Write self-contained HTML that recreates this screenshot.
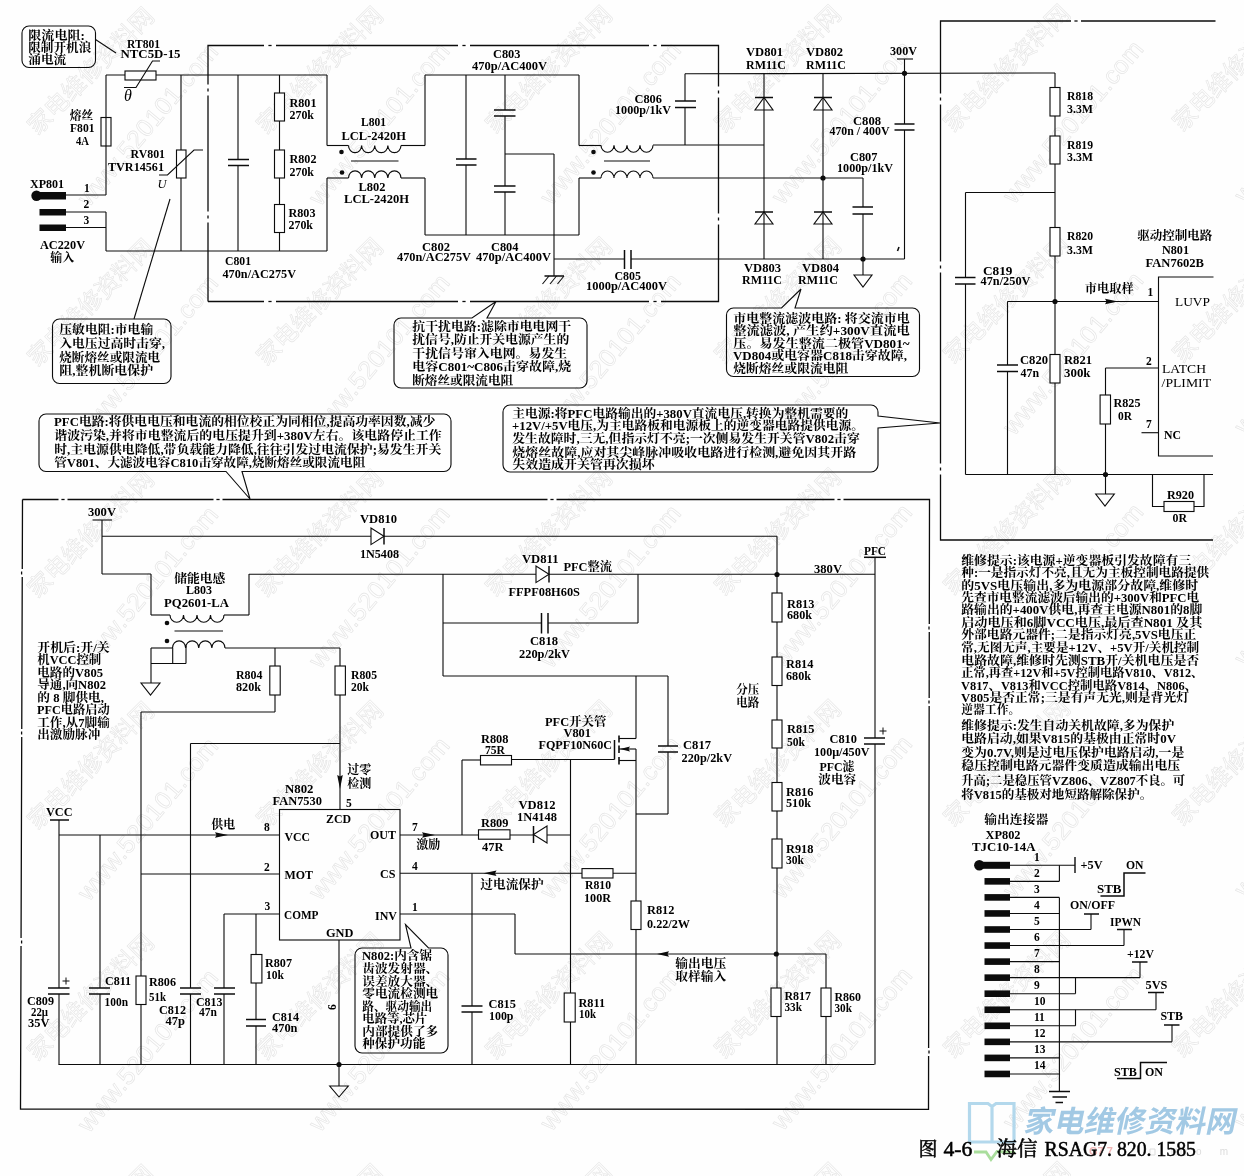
<!DOCTYPE html>
<html><head><meta charset="utf-8"><title>RSAG7.820.1585</title>
<style>html,body{margin:0;padding:0;background:#fefefe;overflow:hidden}svg{display:block;filter:blur(0.35px)}</style></head>
<body>
<svg width="1244" height="1176" viewBox="0 0 1244 1176" font-family="'Liberation Serif', 'Noto Serif CJK SC', serif" font-weight="bold" font-size="11.5" fill="#000">
<defs>
<text id="wm1" font-family="'Liberation Sans', 'Noto Sans CJK SC', sans-serif" font-weight="normal" font-size="23.9" fill="none" stroke="#e4e4e4" stroke-width="0.6" textLength="167" lengthAdjust="spacing">家电维修资料网</text>
<text id="wm2" font-family="Liberation Sans, sans-serif" font-weight="normal" font-size="25" fill="none" stroke="#e4e4e4" stroke-width="0.62" textLength="203" lengthAdjust="spacing">www.520101.com</text>
</defs>

<use href="#wm1" transform="translate(-191.5 -94.9255) rotate(-45)"/>
<use href="#wm2" transform="translate(-142.3 -23.0731) rotate(-50)"/>
<use href="#wm1" transform="translate(37.5 -95.6125) rotate(-45)"/>
<use href="#wm2" transform="translate(89.0 -23.767) rotate(-50)"/>
<use href="#wm1" transform="translate(266.5 -96.2995) rotate(-45)"/>
<use href="#wm2" transform="translate(320.3 -24.4609) rotate(-50)"/>
<use href="#wm1" transform="translate(495.5 -96.9865) rotate(-45)"/>
<use href="#wm2" transform="translate(551.6 -25.1548) rotate(-50)"/>
<use href="#wm1" transform="translate(724.5 -97.6735) rotate(-45)"/>
<use href="#wm2" transform="translate(782.9000000000001 -25.8487) rotate(-50)"/>
<use href="#wm1" transform="translate(953.5 -98.3605) rotate(-45)"/>
<use href="#wm2" transform="translate(1014.2 -26.5426) rotate(-50)"/>
<use href="#wm1" transform="translate(1182.5 -99.0475) rotate(-45)"/>
<use href="#wm2" transform="translate(1245.5 -27.2365) rotate(-50)"/>
<use href="#wm1" transform="translate(-191.5 136.5745) rotate(-45)"/>
<use href="#wm2" transform="translate(-142.3 208.4269) rotate(-50)"/>
<use href="#wm1" transform="translate(37.5 135.8875) rotate(-45)"/>
<use href="#wm2" transform="translate(89.0 207.733) rotate(-50)"/>
<use href="#wm1" transform="translate(266.5 135.2005) rotate(-45)"/>
<use href="#wm2" transform="translate(320.3 207.0391) rotate(-50)"/>
<use href="#wm1" transform="translate(495.5 134.5135) rotate(-45)"/>
<use href="#wm2" transform="translate(551.6 206.3452) rotate(-50)"/>
<use href="#wm1" transform="translate(724.5 133.8265) rotate(-45)"/>
<use href="#wm2" transform="translate(782.9000000000001 205.6513) rotate(-50)"/>
<use href="#wm1" transform="translate(953.5 133.1395) rotate(-45)"/>
<use href="#wm2" transform="translate(1014.2 204.9574) rotate(-50)"/>
<use href="#wm1" transform="translate(1182.5 132.4525) rotate(-45)"/>
<use href="#wm2" transform="translate(1245.5 204.2635) rotate(-50)"/>
<use href="#wm1" transform="translate(-191.5 368.0745) rotate(-45)"/>
<use href="#wm2" transform="translate(-142.3 439.9269) rotate(-50)"/>
<use href="#wm1" transform="translate(37.5 367.3875) rotate(-45)"/>
<use href="#wm2" transform="translate(89.0 439.233) rotate(-50)"/>
<use href="#wm1" transform="translate(266.5 366.7005) rotate(-45)"/>
<use href="#wm2" transform="translate(320.3 438.5391) rotate(-50)"/>
<use href="#wm1" transform="translate(495.5 366.0135) rotate(-45)"/>
<use href="#wm2" transform="translate(551.6 437.8452) rotate(-50)"/>
<use href="#wm1" transform="translate(724.5 365.3265) rotate(-45)"/>
<use href="#wm2" transform="translate(782.9000000000001 437.1513) rotate(-50)"/>
<use href="#wm1" transform="translate(953.5 364.6395) rotate(-45)"/>
<use href="#wm2" transform="translate(1014.2 436.4574) rotate(-50)"/>
<use href="#wm1" transform="translate(1182.5 363.9525) rotate(-45)"/>
<use href="#wm2" transform="translate(1245.5 435.7635) rotate(-50)"/>
<use href="#wm1" transform="translate(-191.5 599.5745) rotate(-45)"/>
<use href="#wm2" transform="translate(-142.3 671.4269) rotate(-50)"/>
<use href="#wm1" transform="translate(37.5 598.8875) rotate(-45)"/>
<use href="#wm2" transform="translate(89.0 670.733) rotate(-50)"/>
<use href="#wm1" transform="translate(266.5 598.2005) rotate(-45)"/>
<use href="#wm2" transform="translate(320.3 670.0391) rotate(-50)"/>
<use href="#wm1" transform="translate(495.5 597.5135) rotate(-45)"/>
<use href="#wm2" transform="translate(551.6 669.3452) rotate(-50)"/>
<use href="#wm1" transform="translate(724.5 596.8265) rotate(-45)"/>
<use href="#wm2" transform="translate(782.9000000000001 668.6513) rotate(-50)"/>
<use href="#wm1" transform="translate(953.5 596.1395) rotate(-45)"/>
<use href="#wm2" transform="translate(1014.2 667.9574) rotate(-50)"/>
<use href="#wm1" transform="translate(1182.5 595.4525) rotate(-45)"/>
<use href="#wm2" transform="translate(1245.5 667.2635) rotate(-50)"/>
<use href="#wm1" transform="translate(-191.5 831.0745) rotate(-45)"/>
<use href="#wm2" transform="translate(-142.3 902.9269) rotate(-50)"/>
<use href="#wm1" transform="translate(37.5 830.3875) rotate(-45)"/>
<use href="#wm2" transform="translate(89.0 902.233) rotate(-50)"/>
<use href="#wm1" transform="translate(266.5 829.7005) rotate(-45)"/>
<use href="#wm2" transform="translate(320.3 901.5391) rotate(-50)"/>
<use href="#wm1" transform="translate(495.5 829.0135) rotate(-45)"/>
<use href="#wm2" transform="translate(551.6 900.8452) rotate(-50)"/>
<use href="#wm1" transform="translate(724.5 828.3265) rotate(-45)"/>
<use href="#wm2" transform="translate(782.9000000000001 900.1513) rotate(-50)"/>
<use href="#wm1" transform="translate(953.5 827.6395) rotate(-45)"/>
<use href="#wm2" transform="translate(1014.2 899.4574) rotate(-50)"/>
<use href="#wm1" transform="translate(1182.5 826.9525) rotate(-45)"/>
<use href="#wm2" transform="translate(1245.5 898.7635) rotate(-50)"/>
<use href="#wm1" transform="translate(-191.5 1062.5745) rotate(-45)"/>
<use href="#wm2" transform="translate(-142.3 1134.4269) rotate(-50)"/>
<use href="#wm1" transform="translate(37.5 1061.8875) rotate(-45)"/>
<use href="#wm2" transform="translate(89.0 1133.733) rotate(-50)"/>
<use href="#wm1" transform="translate(266.5 1061.2005) rotate(-45)"/>
<use href="#wm2" transform="translate(320.3 1133.0391) rotate(-50)"/>
<use href="#wm1" transform="translate(495.5 1060.5135) rotate(-45)"/>
<use href="#wm2" transform="translate(551.6 1132.3452) rotate(-50)"/>
<use href="#wm1" transform="translate(724.5 1059.8265) rotate(-45)"/>
<use href="#wm2" transform="translate(782.9000000000001 1131.6513) rotate(-50)"/>
<use href="#wm1" transform="translate(953.5 1059.1395) rotate(-45)"/>
<use href="#wm2" transform="translate(1014.2 1130.9574) rotate(-50)"/>
<use href="#wm1" transform="translate(1182.5 1058.4525) rotate(-45)"/>
<use href="#wm2" transform="translate(1245.5 1130.2635) rotate(-50)"/>
<use href="#wm1" transform="translate(-191.5 1294.0745) rotate(-45)"/>
<use href="#wm2" transform="translate(-142.3 1365.9269) rotate(-50)"/>
<use href="#wm1" transform="translate(37.5 1293.3875) rotate(-45)"/>
<use href="#wm2" transform="translate(89.0 1365.233) rotate(-50)"/>
<use href="#wm1" transform="translate(266.5 1292.7005) rotate(-45)"/>
<use href="#wm2" transform="translate(320.3 1364.5391) rotate(-50)"/>
<use href="#wm1" transform="translate(495.5 1292.0135) rotate(-45)"/>
<use href="#wm2" transform="translate(551.6 1363.8452) rotate(-50)"/>
<use href="#wm1" transform="translate(724.5 1291.3265) rotate(-45)"/>
<use href="#wm2" transform="translate(782.9000000000001 1363.1513) rotate(-50)"/>
<use href="#wm1" transform="translate(953.5 1290.6395) rotate(-45)"/>
<use href="#wm2" transform="translate(1014.2 1362.4574) rotate(-50)"/>
<use href="#wm1" transform="translate(1182.5 1289.9525) rotate(-45)"/>
<use href="#wm2" transform="translate(1245.5 1361.7635) rotate(-50)"/>
<path d="M969.5 1103.5V1142H1014V1103.5H996L992 1106.5L988 1103.5ZM992 1106.5V1142" fill="none" stroke="#b3d8ec" stroke-width="3.2" stroke-linejoin="miter"/>
<path d="M974 1152H986L991 1159.5L997 1151.5L1015 1152.5" fill="none" stroke="#a9dd9c" stroke-width="2.8"/>
<text transform="translate(1023 1132) skewX(-12)" x="0" y="0" font-family="'Liberation Sans', 'Noto Sans CJK SC', sans-serif" font-weight="bold" font-size="30" fill="#a2c9e4" textLength="212" lengthAdjust="spacingAndGlyphs">家电维修资料网</text>
<text x="1089" y="1155" font-family="Liberation Sans, sans-serif" font-weight="bold" font-size="11" fill="#efb4b4">G7 7</text>
<path d="M1150 1149h5v6h-5zM1163 1154.5h1M1172 1149h5v6h-5zM1181 1149h5v6h-5z" fill="none" stroke="#dedede" stroke-width="1"/>
<text x="1196" y="1155" font-family="Liberation Sans, sans-serif" font-weight="normal" font-size="10" fill="#dcdcdc" textLength="32">o m</text>
<path d="M208 301.5L208 45.5L718.5 45.5L718.5 301.5L208 301.5" stroke="#0c0c0c" stroke-width="1.3" fill="none" stroke-linejoin="miter"/>
<rect x="22" y="26" width="73.5" height="41.5" rx="7" ry="7" stroke="#0c0c0c" stroke-width="1.12" fill="none"/>
<path d="M95.5 39.5L116 53" stroke="#0c0c0c" stroke-width="1.12" fill="none"/>
<text x="28.26" y="39.5" font-size="12.5" textLength="56.7" lengthAdjust="spacingAndGlyphs">限流电阻:</text>
<text x="28.25" y="52" font-size="12.5" textLength="63" lengthAdjust="spacingAndGlyphs">限制开机浪</text>
<text x="28.25" y="63.5" font-size="12.5" textLength="38" lengthAdjust="spacingAndGlyphs">涌电流</text>
<text x="127" y="47.5" textLength="33" lengthAdjust="spacingAndGlyphs">RT801</text>
<text x="120.5" y="58" textLength="60" lengthAdjust="spacingAndGlyphs">NTC5D-15</text>
<path d="M106 75L327 75" stroke="#0c0c0c" stroke-width="1.12" fill="none"/>
<rect x="125" y="71" width="31" height="9" stroke="#0c0c0c" stroke-width="1.12" fill="#fff"/>
<path d="M124 87.5L136 87.5L152.5 61L160 61" stroke="#0c0c0c" stroke-width="1.12" fill="none" stroke-linejoin="miter"/>
<text x="124" y="101" font-size="16" font-weight="normal" font-style="italic">θ</text>
<path d="M106 75L106 195" stroke="#0c0c0c" stroke-width="1.12" fill="none"/>
<rect x="101" y="117.5" width="10" height="28.5" stroke="#0c0c0c" stroke-width="1.12" fill="none"/>
<text x="69.73" y="120" font-size="12" textLength="23.5" lengthAdjust="spacingAndGlyphs">熔丝</text>
<text x="70" y="132" textLength="24.5" lengthAdjust="spacingAndGlyphs">F801</text>
<text x="76" y="145" textLength="13" lengthAdjust="spacingAndGlyphs">4A</text>
<text x="130.5" y="157.5" textLength="34.5" lengthAdjust="spacingAndGlyphs">RV801</text>
<text x="108" y="171" textLength="56" lengthAdjust="spacingAndGlyphs">TVR14561</text>
<path d="M181 75L181 251" stroke="#0c0c0c" stroke-width="1.12" fill="none"/>
<rect x="176.5" y="150" width="9.5" height="28" stroke="#0c0c0c" stroke-width="1.12" fill="#fff"/>
<path d="M159 175L167.5 175L194 150L203 150" stroke="#0c0c0c" stroke-width="1.12" fill="none" stroke-linejoin="miter"/>
<text x="157.5" y="188" font-size="12.5" font-weight="normal" font-style="italic">U</text>
<text x="30" y="188" textLength="34" lengthAdjust="spacingAndGlyphs">XP801</text>
<circle cx="36.5" cy="195.8" r="5.2" fill="#0c0c0c"/>
<rect x="36" y="192" width="30" height="7.5" fill="#0c0c0c"/>
<path d="M66 195L106 195" stroke="#0c0c0c" stroke-width="1.12" fill="none"/>
<rect x="39.5" y="209" width="26.5" height="6.5" fill="#0c0c0c"/>
<path d="M66 212L106 212" stroke="#0c0c0c" stroke-width="1.12" fill="none"/>
<rect x="39.5" y="224.5" width="26.5" height="6.5" fill="#0c0c0c"/>
<path d="M66 227.5L106 227.5" stroke="#0c0c0c" stroke-width="1.12" fill="none"/>
<path d="M106 212L106 251" stroke="#0c0c0c" stroke-width="1.12" fill="none"/>
<path d="M106 251L327 251" stroke="#0c0c0c" stroke-width="1.12" fill="none"/>
<text x="84" y="192">1</text>
<text x="83.5" y="208">2</text>
<text x="83.5" y="224">3</text>
<text x="40" y="249" textLength="45" lengthAdjust="spacingAndGlyphs">AC220V</text>
<text x="50.24" y="262" font-size="12.5" textLength="24" lengthAdjust="spacingAndGlyphs">输入</text>
<path d="M238 75L238 251" stroke="#0c0c0c" stroke-width="1.12" fill="none"/>
<rect x="236" y="159.5" width="4" height="6" fill="#fff"/>
<path d="M228 159.5L249 159.5" stroke="#0c0c0c" stroke-width="1.5" fill="none"/>
<path d="M228 165.5L249 165.5" stroke="#0c0c0c" stroke-width="1.5" fill="none"/>
<path d="M279.5 75L279.5 251" stroke="#0c0c0c" stroke-width="1.12" fill="none"/>
<rect x="274.5" y="93" width="10" height="28" stroke="#0c0c0c" stroke-width="1.12" fill="#fff"/>
<rect x="274.5" y="150" width="10" height="28" stroke="#0c0c0c" stroke-width="1.12" fill="#fff"/>
<rect x="274.5" y="204.5" width="10" height="28" stroke="#0c0c0c" stroke-width="1.12" fill="#fff"/>
<text x="289.5" y="107" textLength="27" lengthAdjust="spacingAndGlyphs">R801</text>
<text x="289.5" y="118.5" textLength="24.5" lengthAdjust="spacingAndGlyphs">270k</text>
<text x="289.5" y="162.5" textLength="27" lengthAdjust="spacingAndGlyphs">R802</text>
<text x="289.5" y="176" textLength="24.5" lengthAdjust="spacingAndGlyphs">270k</text>
<text x="288.5" y="216.5" textLength="27" lengthAdjust="spacingAndGlyphs">R803</text>
<text x="288.5" y="229" textLength="24.5" lengthAdjust="spacingAndGlyphs">270k</text>
<text x="225" y="265" textLength="26" lengthAdjust="spacingAndGlyphs">C801</text>
<text x="222.5" y="277.5" textLength="73.5" lengthAdjust="spacingAndGlyphs">470n/AC275V</text>
<path d="M327 75L327 145.5" stroke="#0c0c0c" stroke-width="1.12" fill="none"/>
<path d="M327 145.5L348.5 145.5" stroke="#0c0c0c" stroke-width="1.12" fill="none"/>
<path d="M327 178L327 251" stroke="#0c0c0c" stroke-width="1.12" fill="none"/>
<path d="M327 178L348.5 178" stroke="#0c0c0c" stroke-width="1.12" fill="none"/>
<path d="M348.5 145.5a6.56 7.09 0 0 0 13.12 0a6.56 7.09 0 0 0 13.12 0a6.56 7.09 0 0 0 13.12 0a6.56 7.09 0 0 0 13.12 0" stroke="#0c0c0c" stroke-width="1.12" fill="none"/>
<path d="M348.5 178a6.56 7.09 0 0 1 13.12 0a6.56 7.09 0 0 1 13.12 0a6.56 7.09 0 0 1 13.12 0a6.56 7.09 0 0 1 13.12 0" stroke="#0c0c0c" stroke-width="1.12" fill="none"/>
<path d="M351 161L398.5 161" stroke="#0c0c0c" stroke-width="1.12" fill="none"/>
<circle cx="341.5" cy="152" r="2.3" fill="#0c0c0c"/>
<circle cx="342" cy="172.5" r="2.3" fill="#0c0c0c"/>
<text x="361" y="126" textLength="25" lengthAdjust="spacingAndGlyphs">L801</text>
<text x="341.5" y="140" textLength="64.5" lengthAdjust="spacingAndGlyphs">LCL-2420H</text>
<text x="358.5" y="190.5" textLength="27" lengthAdjust="spacingAndGlyphs">L802</text>
<text x="344" y="202.5" textLength="65" lengthAdjust="spacingAndGlyphs">LCL-2420H</text>
<path d="M401 145.5L425 145.5" stroke="#0c0c0c" stroke-width="1.12" fill="none"/>
<path d="M401 178L425 178" stroke="#0c0c0c" stroke-width="1.12" fill="none"/>
<path d="M425 75L425 145.5" stroke="#0c0c0c" stroke-width="1.12" fill="none"/>
<path d="M425 178L425 235" stroke="#0c0c0c" stroke-width="1.12" fill="none"/>
<path d="M425 75L579 75" stroke="#0c0c0c" stroke-width="1.12" fill="none"/>
<path d="M425 235L579 235" stroke="#0c0c0c" stroke-width="1.12" fill="none"/>
<path d="M466 75L466 235" stroke="#0c0c0c" stroke-width="1.12" fill="none"/>
<rect x="464" y="159" width="4" height="6" fill="#fff"/>
<path d="M456 159L476.5 159" stroke="#0c0c0c" stroke-width="1.5" fill="none"/>
<path d="M456 165L476.5 165" stroke="#0c0c0c" stroke-width="1.5" fill="none"/>
<path d="M505 75L505 235" stroke="#0c0c0c" stroke-width="1.12" fill="none"/>
<rect x="503" y="110" width="4" height="6" fill="#fff"/>
<path d="M494 110L515.5 110" stroke="#0c0c0c" stroke-width="1.5" fill="none"/>
<path d="M494 116L515.5 116" stroke="#0c0c0c" stroke-width="1.5" fill="none"/>
<rect x="503" y="186" width="4" height="6" fill="#fff"/>
<path d="M494 186L515.5 186" stroke="#0c0c0c" stroke-width="1.5" fill="none"/>
<path d="M494 192L515.5 192" stroke="#0c0c0c" stroke-width="1.5" fill="none"/>
<path d="M505 154L554 154" stroke="#0c0c0c" stroke-width="1.12" fill="none"/>
<path d="M554 154L554 276" stroke="#0c0c0c" stroke-width="1.12" fill="none"/>
<path d="M544.5 276L564 276" stroke="#0c0c0c" stroke-width="1.5" fill="none"/>
<path d="M549 276L542.5 284" stroke="#0c0c0c" stroke-width="1.12" fill="none"/>
<path d="M556.5 276L550 284" stroke="#0c0c0c" stroke-width="1.12" fill="none"/>
<path d="M564 276L557.5 284" stroke="#0c0c0c" stroke-width="1.12" fill="none"/>
<path d="M554 259L904.5 259" stroke="#0c0c0c" stroke-width="1.12" fill="none"/>
<rect x="624.5" y="257" width="6.5" height="4" fill="#fff"/>
<path d="M624.5 250L624.5 269" stroke="#0c0c0c" stroke-width="1.5" fill="none"/>
<path d="M631 250L631 269" stroke="#0c0c0c" stroke-width="1.5" fill="none"/>
<path d="M579 75L579 145.5" stroke="#0c0c0c" stroke-width="1.12" fill="none"/>
<path d="M579 178L579 235" stroke="#0c0c0c" stroke-width="1.12" fill="none"/>
<path d="M579 145.5L601 145.5" stroke="#0c0c0c" stroke-width="1.12" fill="none"/>
<path d="M579 178L601 178" stroke="#0c0c0c" stroke-width="1.12" fill="none"/>
<path d="M601 145.2a6.5 7.02 0 0 0 13 0a6.5 7.02 0 0 0 13 0a6.5 7.02 0 0 0 13 0a6.5 7.02 0 0 0 13 0" stroke="#0c0c0c" stroke-width="1.12" fill="none"/>
<path d="M601 178a6.5 7.02 0 0 1 13 0a6.5 7.02 0 0 1 13 0a6.5 7.02 0 0 1 13 0a6.5 7.02 0 0 1 13 0" stroke="#0c0c0c" stroke-width="1.12" fill="none"/>
<path d="M604 161L650 161" stroke="#0c0c0c" stroke-width="1.12" fill="none"/>
<circle cx="593.5" cy="152" r="2.3" fill="#0c0c0c"/>
<circle cx="593.5" cy="172.5" r="2.3" fill="#0c0c0c"/>
<text x="493" y="58" textLength="27.5" lengthAdjust="spacingAndGlyphs">C803</text>
<text x="472" y="69.5" textLength="75" lengthAdjust="spacingAndGlyphs">470p/AC400V</text>
<text x="422" y="251" textLength="28" lengthAdjust="spacingAndGlyphs">C802</text>
<text x="397" y="261" textLength="74" lengthAdjust="spacingAndGlyphs">470n/AC275V</text>
<text x="491" y="251" textLength="27.5" lengthAdjust="spacingAndGlyphs">C804</text>
<text x="476" y="261" textLength="75" lengthAdjust="spacingAndGlyphs">470p/AC400V</text>
<text x="614.5" y="280" textLength="26.5" lengthAdjust="spacingAndGlyphs">C805</text>
<text x="586" y="290" textLength="81" lengthAdjust="spacingAndGlyphs">1000p/AC400V</text>
<path d="M653 145L764 145" stroke="#0c0c0c" stroke-width="1.12" fill="none"/>
<path d="M653 178L863 178" stroke="#0c0c0c" stroke-width="1.12" fill="none"/>
<path d="M685 73.7L685 145" stroke="#0c0c0c" stroke-width="1.12" fill="none"/>
<rect x="683" y="101" width="4" height="6.5" fill="#fff"/>
<path d="M675 101L696 101" stroke="#0c0c0c" stroke-width="1.5" fill="none"/>
<path d="M675 107.5L696 107.5" stroke="#0c0c0c" stroke-width="1.5" fill="none"/>
<path d="M685 73.8L1055 73" stroke="#0c0c0c" stroke-width="1.12" fill="none"/>
<path d="M764 73.6L764 259" stroke="#0c0c0c" stroke-width="1.12" fill="none"/>
<path d="M823 73.4L823 259" stroke="#0c0c0c" stroke-width="1.12" fill="none"/>
<path d="M755 110L773 110L764 97.5Z" stroke="#0c0c0c" stroke-width="1.12" fill="#fff" stroke-linejoin="miter"/>
<path d="M755 97.5L773 97.5" stroke="#0c0c0c" stroke-width="1.5" fill="none"/>
<path d="M764 97.5L764 110" stroke="#0c0c0c" stroke-width="1.12" fill="none"/>
<path d="M814 110L832 110L823 97.5Z" stroke="#0c0c0c" stroke-width="1.12" fill="#fff" stroke-linejoin="miter"/>
<path d="M814 97.5L832 97.5" stroke="#0c0c0c" stroke-width="1.5" fill="none"/>
<path d="M823 97.5L823 110" stroke="#0c0c0c" stroke-width="1.12" fill="none"/>
<path d="M755 224L773 224L764 212Z" stroke="#0c0c0c" stroke-width="1.12" fill="#fff" stroke-linejoin="miter"/>
<path d="M755 212L773 212" stroke="#0c0c0c" stroke-width="1.5" fill="none"/>
<path d="M764 212L764 224" stroke="#0c0c0c" stroke-width="1.12" fill="none"/>
<path d="M814 224L832 224L823 212Z" stroke="#0c0c0c" stroke-width="1.12" fill="#fff" stroke-linejoin="miter"/>
<path d="M814 212L832 212" stroke="#0c0c0c" stroke-width="1.5" fill="none"/>
<path d="M823 212L823 224" stroke="#0c0c0c" stroke-width="1.12" fill="none"/>
<circle cx="823" cy="178" r="2.6" fill="#0c0c0c"/>
<circle cx="863" cy="259" r="2.6" fill="#0c0c0c"/>
<circle cx="904.5" cy="73.3" r="2.6" fill="#0c0c0c"/>
<path d="M863 178L863 259" stroke="#0c0c0c" stroke-width="1.12" fill="none"/>
<rect x="861" y="207" width="4" height="7" fill="#fff"/>
<path d="M852.5 207L873 207" stroke="#0c0c0c" stroke-width="1.5" fill="none"/>
<path d="M852.5 214L873 214" stroke="#0c0c0c" stroke-width="1.5" fill="none"/>
<path d="M863 259L863 275" stroke="#0c0c0c" stroke-width="1.12" fill="none"/>
<path d="M854 275L872 275L863 287Z" stroke="#0c0c0c" stroke-width="1.12" fill="none" stroke-linejoin="miter"/>
<path d="M904.5 59L904.5 259" stroke="#0c0c0c" stroke-width="1.12" fill="none"/>
<path d="M897 59L913 59" stroke="#0c0c0c" stroke-width="1.12" fill="none"/>
<rect x="902.5" y="124" width="4" height="6" fill="#fff"/>
<path d="M894.5 124L914.5 124" stroke="#0c0c0c" stroke-width="1.5" fill="none"/>
<path d="M894.5 130L914.5 130" stroke="#0c0c0c" stroke-width="1.5" fill="none"/>
<path d="M899 247L897.5 251" stroke="#0c0c0c" stroke-width="1.6" fill="none"/>
<text x="746" y="55.5" textLength="37" lengthAdjust="spacingAndGlyphs">VD801</text>
<text x="746" y="69" textLength="40" lengthAdjust="spacingAndGlyphs">RM11C</text>
<text x="806" y="55.5" textLength="37" lengthAdjust="spacingAndGlyphs">VD802</text>
<text x="806" y="69" textLength="40" lengthAdjust="spacingAndGlyphs">RM11C</text>
<text x="890" y="55" textLength="27" lengthAdjust="spacingAndGlyphs">300V</text>
<text x="634.5" y="103" textLength="27.5" lengthAdjust="spacingAndGlyphs">C806</text>
<text x="615" y="114" textLength="56" lengthAdjust="spacingAndGlyphs">1000p/1kV</text>
<text x="853" y="125" textLength="28" lengthAdjust="spacingAndGlyphs">C808</text>
<text x="829.5" y="135" textLength="60" lengthAdjust="spacingAndGlyphs">470n / 400V</text>
<text x="850" y="161" textLength="27.5" lengthAdjust="spacingAndGlyphs">C807</text>
<text x="837" y="172" textLength="56" lengthAdjust="spacingAndGlyphs">1000p/1kV</text>
<text x="744" y="272" textLength="37" lengthAdjust="spacingAndGlyphs">VD803</text>
<text x="742" y="284" textLength="40" lengthAdjust="spacingAndGlyphs">RM11C</text>
<text x="802" y="272" textLength="37" lengthAdjust="spacingAndGlyphs">VD804</text>
<text x="798" y="284" textLength="40" lengthAdjust="spacingAndGlyphs">RM11C</text>
<path d="M1215.5 21L940.5 21L940.5 540L1213 540" stroke="#0c0c0c" stroke-width="1.3" fill="none" stroke-linejoin="miter"/>
<path d="M1055 73L1055 474.5" stroke="#0c0c0c" stroke-width="1.12" fill="none"/>
<rect x="1050" y="87.5" width="10" height="28.5" stroke="#0c0c0c" stroke-width="1.12" fill="#fff"/>
<rect x="1050" y="136" width="10" height="28" stroke="#0c0c0c" stroke-width="1.12" fill="#fff"/>
<rect x="1050" y="227.5" width="10" height="28.5" stroke="#0c0c0c" stroke-width="1.12" fill="#fff"/>
<rect x="1050" y="354.5" width="10" height="28.5" stroke="#0c0c0c" stroke-width="1.12" fill="#fff"/>
<path d="M965.5 192.5L1055 192.5" stroke="#0c0c0c" stroke-width="1.12" fill="none"/>
<path d="M965.5 192.5L965.5 474.5" stroke="#0c0c0c" stroke-width="1.12" fill="none"/>
<rect x="963.5" y="277.5" width="4" height="6.5" fill="#fff"/>
<path d="M955 277.5L975.5 277.5" stroke="#0c0c0c" stroke-width="1.5" fill="none"/>
<path d="M955 284L975.5 284" stroke="#0c0c0c" stroke-width="1.5" fill="none"/>
<path d="M1007.5 301.5L1158.5 301.5" stroke="#0c0c0c" stroke-width="1.12" fill="none"/>
<circle cx="1055" cy="301.5" r="2.6" fill="#0c0c0c"/>
<path d="M1118 301.5L1105 298.7L1106.5 301.5L1105 304.3Z" fill="#0c0c0c"/>
<path d="M1007.5 301.5L1007.5 474.5" stroke="#0c0c0c" stroke-width="1.12" fill="none"/>
<rect x="1005.5" y="365" width="4" height="6.5" fill="#fff"/>
<path d="M997 365L1018 365" stroke="#0c0c0c" stroke-width="1.5" fill="none"/>
<path d="M997 371.5L1018 371.5" stroke="#0c0c0c" stroke-width="1.5" fill="none"/>
<path d="M965.5 474.5L1213 474.5" stroke="#0c0c0c" stroke-width="1.12" fill="none"/>
<path d="M1213.5 277L1158.5 277L1158.5 456L1213 456" stroke="#0c0c0c" stroke-width="1.12" fill="none" stroke-linejoin="miter"/>
<path d="M1105.5 368L1158.5 368" stroke="#0c0c0c" stroke-width="1.12" fill="none"/>
<path d="M1105.5 368L1105.5 494" stroke="#0c0c0c" stroke-width="1.12" fill="none"/>
<rect x="1100.1" y="395" width="10.4" height="29" stroke="#0c0c0c" stroke-width="1.12" fill="#fff"/>
<circle cx="1105.5" cy="474.5" r="2.6" fill="#0c0c0c"/>
<path d="M1095.7 494L1114.3 494L1105 506Z" stroke="#0c0c0c" stroke-width="1.12" fill="none" stroke-linejoin="miter"/>
<path d="M1141.5 432.7L1158.5 432.7" stroke="#0c0c0c" stroke-width="1.12" fill="none"/>
<path d="M1152.5 474.5L1152.5 506.5L1204 506.5L1204 474.5" stroke="#0c0c0c" stroke-width="1.12" fill="none" stroke-linejoin="miter"/>
<rect x="1164" y="501.5" width="30" height="10" stroke="#0c0c0c" stroke-width="1.12" fill="#fff"/>
<text x="1067" y="100" textLength="26" lengthAdjust="spacingAndGlyphs">R818</text>
<text x="1067" y="113" textLength="26" lengthAdjust="spacingAndGlyphs">3.3M</text>
<text x="1067" y="149" textLength="26" lengthAdjust="spacingAndGlyphs">R819</text>
<text x="1067" y="161" textLength="26" lengthAdjust="spacingAndGlyphs">3.3M</text>
<text x="1067" y="240" textLength="26" lengthAdjust="spacingAndGlyphs">R820</text>
<text x="1067" y="254" textLength="26" lengthAdjust="spacingAndGlyphs">3.3M</text>
<text x="1137.25" y="240" font-size="12.5" textLength="75" lengthAdjust="spacingAndGlyphs">驱动控制电路</text>
<text x="1162" y="254" textLength="27" lengthAdjust="spacingAndGlyphs">N801</text>
<text x="1145.5" y="267" textLength="58.5" lengthAdjust="spacingAndGlyphs">FAN7602B</text>
<text x="983" y="275" textLength="29.5" lengthAdjust="spacingAndGlyphs">C819</text>
<text x="980.5" y="285" textLength="50" lengthAdjust="spacingAndGlyphs">47n/250V</text>
<text x="1084.74" y="293" font-size="12.5" textLength="49" lengthAdjust="spacingAndGlyphs">市电取样</text>
<text x="1147.5" y="295.7">1</text>
<text x="1175" y="306" font-size="13.5" font-weight="normal" textLength="35" lengthAdjust="spacingAndGlyphs">LUVP</text>
<text x="1020" y="364" textLength="28" lengthAdjust="spacingAndGlyphs">C820</text>
<text x="1020.5" y="376.5" textLength="18.5" lengthAdjust="spacingAndGlyphs">47n</text>
<text x="1064" y="364" textLength="28" lengthAdjust="spacingAndGlyphs">R821</text>
<text x="1064" y="376.5" textLength="26.5" lengthAdjust="spacingAndGlyphs">300k</text>
<text x="1146" y="364.6">2</text>
<text x="1162" y="373" font-size="13.5" font-weight="normal" textLength="44" lengthAdjust="spacingAndGlyphs">LATCH</text>
<text x="1161.6" y="387" font-size="13.5" font-weight="normal" textLength="49.4" lengthAdjust="spacingAndGlyphs">/PLIMIT</text>
<text x="1113.5" y="406.5" textLength="27" lengthAdjust="spacingAndGlyphs">R825</text>
<text x="1118" y="420" textLength="14" lengthAdjust="spacingAndGlyphs">0R</text>
<text x="1146" y="427.5">7</text>
<text x="1164" y="438.6" font-size="13" textLength="17" lengthAdjust="spacingAndGlyphs">NC</text>
<text x="1167" y="498.5" textLength="27" lengthAdjust="spacingAndGlyphs">R920</text>
<text x="1172.5" y="522" textLength="14.5" lengthAdjust="spacingAndGlyphs">0R</text>
<rect x="52.5" y="319" width="118.5" height="64.5" rx="7" ry="7" stroke="#0c0c0c" stroke-width="1.12" fill="none"/>
<path d="M170 199L134 319" stroke="#0c0c0c" stroke-width="1.12" fill="none"/>
<text x="59.26" y="334" font-size="12.5" textLength="94" lengthAdjust="spacingAndGlyphs">压敏电阻:市电输</text>
<text x="59.26" y="348" font-size="12.5" textLength="105.7" lengthAdjust="spacingAndGlyphs">入电压过高时击穿,</text>
<text x="59.25" y="361.5" font-size="12.5" textLength="101" lengthAdjust="spacingAndGlyphs">烧断熔丝或限流电</text>
<text x="59.26" y="375" font-size="12.5" textLength="94" lengthAdjust="spacingAndGlyphs">阻,整机断电保护</text>
<path d="M472 318H401a7 7 0 0 0 -7 7V381a7 7 0 0 0 7 7H580a7 7 0 0 0 7 -7V325a7 7 0 0 0 -7 -7H487L496 301.5Z" stroke="#0c0c0c" stroke-width="1.12" fill="none"/>
<text x="412.26" y="331" font-size="12.5" textLength="159" lengthAdjust="spacingAndGlyphs">抗干扰电路:滤除市电电网干</text>
<text x="412.26" y="344" font-size="12.5" textLength="157" lengthAdjust="spacingAndGlyphs">扰信号,防止开关电源产生的</text>
<text x="412.26" y="358" font-size="12.5" textLength="155" lengthAdjust="spacingAndGlyphs">干扰信号窜入电网。易发生</text>
<text x="412.26" y="371" font-size="12.5" textLength="159" lengthAdjust="spacingAndGlyphs">电容C801~C806击穿故障,烧</text>
<text x="412.25" y="384.5" font-size="12.5" textLength="101" lengthAdjust="spacingAndGlyphs">断熔丝或限流电阻</text>
<path d="M781.5 308H733.5a7 7 0 0 0 -7 7V369.5a7 7 0 0 0 7 7H912.5a7 7 0 0 0 7 -7V315a7 7 0 0 0 -7 -7H795L801 289Z" stroke="#0c0c0c" stroke-width="1.12" fill="none"/>
<text x="733.26" y="323" font-size="12.5" textLength="176.5" lengthAdjust="spacingAndGlyphs">市电整流滤波电路: 将交流市电</text>
<text x="733.26" y="335" font-size="12.5" textLength="176.5" lengthAdjust="spacingAndGlyphs">整流滤波, 产生约+300V直流电</text>
<text x="733.32" y="348" font-size="12.5" textLength="176.2" lengthAdjust="spacingAndGlyphs">压。易发生整流二极管VD801~</text>
<text x="733" y="360" font-size="12.5" textLength="174" lengthAdjust="spacingAndGlyphs">VD804或电容器C818击穿故障,</text>
<text x="733.26" y="373" font-size="12.5" textLength="115" lengthAdjust="spacingAndGlyphs">烧断熔丝或限流电阻</text>
<path d="M226 471.5H46a7 7 0 0 1 -7 -7V421a7 7 0 0 1 7 -7H444a7 7 0 0 1 7 7V464.5a7 7 0 0 1 -7 7H242L250 499Z" stroke="#0c0c0c" stroke-width="1.12" fill="none"/>
<text x="54" y="426" font-size="12.5" textLength="381.25" lengthAdjust="spacingAndGlyphs">PFC电路:将供电电压和电流的相位校正为同相位,提高功率因数,减少</text>
<text x="54.26" y="440" font-size="12.5" textLength="387.5" lengthAdjust="spacingAndGlyphs">谐波污染,并将市电整流后的电压提升到+380V左右。该电路停止工作</text>
<text x="54.26" y="453.5" font-size="12.5" textLength="387" lengthAdjust="spacingAndGlyphs">时,主电源供电降低,带负载能力降低,往往引发过电流保护;易发生开关</text>
<text x="54.26" y="467" font-size="12.5" textLength="311" lengthAdjust="spacingAndGlyphs">管V801、大滤波电容C810击穿故障,烧断熔丝或限流电阻</text>
<path d="M878 416V412a7 7 0 0 0 -7 -7H510a7 7 0 0 0 -7 7V465a7 7 0 0 0 7 7H871a7 7 0 0 0 7 -7V428L940 423Z" stroke="#0c0c0c" stroke-width="1.12" fill="none"/>
<text x="512.25" y="418" font-size="12.5" textLength="336" lengthAdjust="spacingAndGlyphs">主电源:将PFC电路输出的+380V直流电压,转换为整机需要的</text>
<text x="512" y="430" font-size="12.5" textLength="352" lengthAdjust="spacingAndGlyphs">+12V/+5V电压,为主电路板和电源板上的逆变器电路提供电源。</text>
<text x="512.26" y="443" font-size="12.5" textLength="347.5" lengthAdjust="spacingAndGlyphs">发生故障时,三无,但指示灯不亮;一次侧易发生开关管V802击穿</text>
<text x="512.26" y="456.5" font-size="12.5" textLength="344" lengthAdjust="spacingAndGlyphs">烧熔丝故障,应对其尖峰脉冲吸收电路进行检测,避免因其开路</text>
<text x="512.26" y="469" font-size="12.5" textLength="142.5" lengthAdjust="spacingAndGlyphs">失效造成开关管再次损坏</text>
<path d="M22.5 499.5L929.5 499.5L928.5 1109.3L20.5 1109L22.5 499.5" stroke="#0c0c0c" stroke-width="1.3" fill="none" stroke-linejoin="miter"/>
<text x="88" y="516" textLength="28" lengthAdjust="spacingAndGlyphs">300V</text>
<path d="M92.5 520L112 520" stroke="#0c0c0c" stroke-width="1.12" fill="none"/>
<path d="M102 520L102 574" stroke="#0c0c0c" stroke-width="1.12" fill="none"/>
<path d="M102 536.3L777 536.3" stroke="#0c0c0c" stroke-width="1.12" fill="none"/>
<path d="M371 528L371 544.6L384 536.3Z" stroke="#0c0c0c" stroke-width="1.12" fill="#fff" stroke-linejoin="miter"/>
<path d="M384 528L384 544.6" stroke="#0c0c0c" stroke-width="1.5" fill="none"/>
<text x="360" y="523" textLength="37" lengthAdjust="spacingAndGlyphs">VD810</text>
<text x="360" y="558" textLength="39" lengthAdjust="spacingAndGlyphs">1N5408</text>
<path d="M102 574L151 574" stroke="#0c0c0c" stroke-width="1.12" fill="none"/>
<path d="M151 574L151 615" stroke="#0c0c0c" stroke-width="1.12" fill="none"/>
<path d="M151 615L170 615" stroke="#0c0c0c" stroke-width="1.12" fill="none"/>
<path d="M170 615a6.75 7.29 0 0 0 13.5 0a6.75 7.29 0 0 0 13.5 0a6.75 7.29 0 0 0 13.5 0a6.75 7.29 0 0 0 13.5 0" stroke="#0c0c0c" stroke-width="1.12" fill="none"/>
<path d="M224 615L249 615" stroke="#0c0c0c" stroke-width="1.12" fill="none"/>
<path d="M249 574L249 615" stroke="#0c0c0c" stroke-width="1.12" fill="none"/>
<path d="M249 574.3L875 574.3" stroke="#0c0c0c" stroke-width="1.12" fill="none"/>
<path d="M536 566L536 582.6L549 574.3Z" stroke="#0c0c0c" stroke-width="1.12" fill="#fff" stroke-linejoin="miter"/>
<path d="M549 566L549 582.6" stroke="#0c0c0c" stroke-width="1.5" fill="none"/>
<text x="522" y="563" textLength="36.5" lengthAdjust="spacingAndGlyphs">VD811</text>
<text x="563.5" y="571" font-size="12" textLength="48.7" lengthAdjust="spacingAndGlyphs">PFC整流</text>
<text x="508.5" y="595.5" textLength="71.5" lengthAdjust="spacingAndGlyphs">FFPF08H60S</text>
<path d="M777 536.3L777 1064.5" stroke="#0c0c0c" stroke-width="1.12" fill="none"/>
<circle cx="777" cy="574.5" r="2.6" fill="#0c0c0c"/>
<text x="864" y="554.5" textLength="22" lengthAdjust="spacingAndGlyphs">PFC</text>
<path d="M864 557.3L886 557.3" stroke="#0c0c0c" stroke-width="1.5" fill="none"/>
<path d="M875 557L875 1064.5" stroke="#0c0c0c" stroke-width="1.12" fill="none"/>
<text x="814" y="573" textLength="28" lengthAdjust="spacingAndGlyphs">380V</text>
<path d="M443 574L443 676" stroke="#0c0c0c" stroke-width="1.12" fill="none"/>
<path d="M443 623L638 623" stroke="#0c0c0c" stroke-width="1.12" fill="none"/>
<rect x="541.5" y="621" width="6.5" height="4" fill="#fff"/>
<path d="M541.5 613L541.5 633.5" stroke="#0c0c0c" stroke-width="1.5" fill="none"/>
<path d="M548 613L548 633.5" stroke="#0c0c0c" stroke-width="1.5" fill="none"/>
<path d="M638 574.3L638 623" stroke="#0c0c0c" stroke-width="1.12" fill="none"/>
<path d="M443 676L668 676" stroke="#0c0c0c" stroke-width="1.12" fill="none"/>
<text x="530" y="645" textLength="28" lengthAdjust="spacingAndGlyphs">C818</text>
<text x="519" y="657.5" textLength="51" lengthAdjust="spacingAndGlyphs">220p/2kV</text>
<path d="M636 676L636 738.5" stroke="#0c0c0c" stroke-width="1.12" fill="none"/>
<path d="M619 738.5L636 738.5" stroke="#0c0c0c" stroke-width="1.12" fill="none"/>
<path d="M619 735.5L619 742.5" stroke="#0c0c0c" stroke-width="1.6" fill="none"/>
<path d="M619 745.5L619 753" stroke="#0c0c0c" stroke-width="1.6" fill="none"/>
<path d="M619 757L619 764.5" stroke="#0c0c0c" stroke-width="1.6" fill="none"/>
<path d="M614.5 740L614.5 759.5" stroke="#0c0c0c" stroke-width="1.5" fill="none"/>
<path d="M511.5 759.5L614.5 759.5" stroke="#0c0c0c" stroke-width="1.12" fill="none"/>
<path d="M619 749L636 749" stroke="#0c0c0c" stroke-width="1.12" fill="none"/>
<path d="M620 749L630 746.6L628.5 749L630 751.4Z" fill="#0c0c0c"/>
<path d="M619 760.5L636 760.5" stroke="#0c0c0c" stroke-width="1.12" fill="none"/>
<path d="M636 749L636 1064.5" stroke="#0c0c0c" stroke-width="1.12" fill="none"/>
<path d="M668 676L668 814" stroke="#0c0c0c" stroke-width="1.12" fill="none"/>
<rect x="666" y="746" width="4" height="6" fill="#fff"/>
<path d="M658 746L678 746" stroke="#0c0c0c" stroke-width="1.5" fill="none"/>
<path d="M658 752L678 752" stroke="#0c0c0c" stroke-width="1.5" fill="none"/>
<path d="M636 814L668 814" stroke="#0c0c0c" stroke-width="1.12" fill="none"/>
<text x="683" y="749" textLength="28" lengthAdjust="spacingAndGlyphs">C817</text>
<text x="681.5" y="762" textLength="50.5" lengthAdjust="spacingAndGlyphs">220p/2kV</text>
<text x="545" y="726" font-size="12" textLength="61.3" lengthAdjust="spacingAndGlyphs">PFC开关管</text>
<text x="563.5" y="737" textLength="27.5" lengthAdjust="spacingAndGlyphs">V801</text>
<text x="538.5" y="749" textLength="73.5" lengthAdjust="spacingAndGlyphs">FQPF10N60C</text>
<rect x="772" y="593" width="10" height="29" stroke="#0c0c0c" stroke-width="1.12" fill="#fff"/>
<rect x="772" y="657" width="10" height="28.5" stroke="#0c0c0c" stroke-width="1.12" fill="#fff"/>
<rect x="772" y="720" width="10" height="28" stroke="#0c0c0c" stroke-width="1.12" fill="#fff"/>
<rect x="772" y="782.5" width="10" height="28.5" stroke="#0c0c0c" stroke-width="1.12" fill="#fff"/>
<rect x="772" y="839" width="10" height="29" stroke="#0c0c0c" stroke-width="1.12" fill="#fff"/>
<rect x="771" y="988" width="10" height="28.5" stroke="#0c0c0c" stroke-width="1.12" fill="#fff"/>
<text x="787" y="607.5" textLength="27.5" lengthAdjust="spacingAndGlyphs">R813</text>
<text x="787" y="619" textLength="25" lengthAdjust="spacingAndGlyphs">680k</text>
<text x="786" y="668" textLength="27.5" lengthAdjust="spacingAndGlyphs">R814</text>
<text x="786" y="680" textLength="25" lengthAdjust="spacingAndGlyphs">680k</text>
<text x="787" y="733" textLength="27.5" lengthAdjust="spacingAndGlyphs">R815</text>
<text x="787" y="746" textLength="18" lengthAdjust="spacingAndGlyphs">50k</text>
<text x="786" y="795.5" textLength="27.5" lengthAdjust="spacingAndGlyphs">R816</text>
<text x="786" y="807" textLength="25" lengthAdjust="spacingAndGlyphs">510k</text>
<text x="786" y="853" textLength="27.5" lengthAdjust="spacingAndGlyphs">R918</text>
<text x="786" y="864" textLength="18" lengthAdjust="spacingAndGlyphs">30k</text>
<text x="736.23" y="694" font-size="12" textLength="23" lengthAdjust="spacingAndGlyphs">分压</text>
<text x="736.23" y="707" font-size="12" textLength="23" lengthAdjust="spacingAndGlyphs">电路</text>
<rect x="872.5" y="738" width="4" height="6" fill="#fff"/>
<path d="M864 738L885 738" stroke="#0c0c0c" stroke-width="1.5" fill="none"/>
<path d="M864 744L885 744" stroke="#0c0c0c" stroke-width="1.5" fill="none"/>
<path d="M879.5 731L886.5 731" stroke="#0c0c0c" stroke-width="1" fill="none"/>
<path d="M883 727.5L883 734.5" stroke="#0c0c0c" stroke-width="1" fill="none"/>
<text x="829.5" y="743" textLength="27.5" lengthAdjust="spacingAndGlyphs">C810</text>
<text x="814" y="755.5" textLength="55.5" lengthAdjust="spacingAndGlyphs">100μ/450V</text>
<text x="819.5" y="770.5" font-size="12" textLength="35" lengthAdjust="spacingAndGlyphs">PFC滤</text>
<text x="818.25" y="784" font-size="12.5" textLength="38" lengthAdjust="spacingAndGlyphs">波电容</text>
<path d="M515 954L826 954" stroke="#0c0c0c" stroke-width="1.12" fill="none"/>
<circle cx="776.3" cy="954" r="2.6" fill="#0c0c0c"/>
<path d="M826 954L826 1064.5" stroke="#0c0c0c" stroke-width="1.12" fill="none"/>
<rect x="821" y="988" width="10" height="28.5" stroke="#0c0c0c" stroke-width="1.12" fill="#fff"/>
<path d="M657 954L669 951.2L667.5 954L669 956.8Z" fill="#0c0c0c"/>
<path d="M400 914L515 914" stroke="#0c0c0c" stroke-width="1.12" fill="none"/>
<path d="M515 914L515 954" stroke="#0c0c0c" stroke-width="1.12" fill="none"/>
<text x="675.25" y="968" font-size="12.5" textLength="51" lengthAdjust="spacingAndGlyphs">输出电压</text>
<text x="675.25" y="981" font-size="12.5" textLength="51" lengthAdjust="spacingAndGlyphs">取样输入</text>
<text x="784.5" y="999.5" textLength="26.5" lengthAdjust="spacingAndGlyphs">R817</text>
<text x="784.5" y="1011" textLength="17.5" lengthAdjust="spacingAndGlyphs">33k</text>
<text x="834.5" y="1001" textLength="26.5" lengthAdjust="spacingAndGlyphs">R860</text>
<text x="834.5" y="1012" textLength="17.5" lengthAdjust="spacingAndGlyphs">30k</text>
<rect x="631" y="901" width="10" height="28.5" stroke="#0c0c0c" stroke-width="1.12" fill="#fff"/>
<text x="647" y="914" textLength="27.5" lengthAdjust="spacingAndGlyphs">R812</text>
<text x="647" y="928" textLength="43" lengthAdjust="spacingAndGlyphs">0.22/2W</text>
<path d="M172.5 648a6.56 7.09 0 0 1 13.12 0a6.56 7.09 0 0 1 13.12 0a6.56 7.09 0 0 1 13.12 0a6.56 7.09 0 0 1 13.12 0" stroke="#0c0c0c" stroke-width="1.12" fill="none"/>
<path d="M225 648L340 648" stroke="#0c0c0c" stroke-width="1.12" fill="none"/>
<path d="M151 648L172.5 648" stroke="#0c0c0c" stroke-width="1.12" fill="none"/>
<path d="M151 648L151 683" stroke="#0c0c0c" stroke-width="1.12" fill="none"/>
<path d="M141 683L160 683L150.5 695Z" stroke="#0c0c0c" stroke-width="1.12" fill="none" stroke-linejoin="miter"/>
<path d="M151 663.5L186 663.5" stroke="#0c0c0c" stroke-width="1.12" fill="none"/>
<path d="M172.7 648L172.7 663.5" stroke="#0c0c0c" stroke-width="1.12" fill="none"/>
<path d="M186 646L186 663.5" stroke="#0c0c0c" stroke-width="1.12" fill="none"/>
<circle cx="167" cy="623" r="2.3" fill="#0c0c0c"/>
<circle cx="167" cy="641" r="2.3" fill="#0c0c0c"/>
<path d="M174.5 631L223 631" stroke="#0c0c0c" stroke-width="1.12" fill="none"/>
<text x="174.25" y="583" font-size="12.5" textLength="51" lengthAdjust="spacingAndGlyphs">储能电感</text>
<text x="186" y="594" textLength="26" lengthAdjust="spacingAndGlyphs">L803</text>
<text x="164" y="607" textLength="65" lengthAdjust="spacingAndGlyphs">PQ2601-LA</text>
<path d="M275 648L275 712" stroke="#0c0c0c" stroke-width="1.12" fill="none"/>
<rect x="269.8" y="666" width="10.4" height="29" stroke="#0c0c0c" stroke-width="1.12" fill="#fff"/>
<path d="M141 712L275 712" stroke="#0c0c0c" stroke-width="1.12" fill="none"/>
<path d="M141 712L141 1064.5" stroke="#0c0c0c" stroke-width="1.12" fill="none"/>
<text x="236" y="679" textLength="26.5" lengthAdjust="spacingAndGlyphs">R804</text>
<text x="236" y="691" textLength="25" lengthAdjust="spacingAndGlyphs">820k</text>
<path d="M340 648L340 809.5" stroke="#0c0c0c" stroke-width="1.12" fill="none"/>
<rect x="335" y="666" width="10.4" height="29" stroke="#0c0c0c" stroke-width="1.12" fill="#fff"/>
<path d="M340 789L337.2 775L340 776.5L342.8 775Z" fill="#0c0c0c"/>
<text x="351" y="679" textLength="26" lengthAdjust="spacingAndGlyphs">R805</text>
<text x="351" y="690.5" textLength="18" lengthAdjust="spacingAndGlyphs">20k</text>
<path d="M190.5 743.5L340 743.5" stroke="#0c0c0c" stroke-width="1.12" fill="none"/>
<path d="M190.5 743.5L190.5 1064.5" stroke="#0c0c0c" stroke-width="1.12" fill="none"/>
<text x="347.24" y="774" font-size="12.5" textLength="24" lengthAdjust="spacingAndGlyphs">过零</text>
<text x="347.24" y="788" font-size="12.5" textLength="24" lengthAdjust="spacingAndGlyphs">检测</text>
<rect x="279.5" y="809.5" width="120.5" height="130.5" stroke="#0c0c0c" stroke-width="1.12" fill="none"/>
<text x="285" y="793" textLength="28.5" lengthAdjust="spacingAndGlyphs">N802</text>
<text x="272.5" y="805" textLength="49.5" lengthAdjust="spacingAndGlyphs">FAN7530</text>
<text x="346" y="807">5</text>
<text x="326" y="823" textLength="25" lengthAdjust="spacingAndGlyphs">ZCD</text>
<text x="284.5" y="840.5" textLength="25.5" lengthAdjust="spacingAndGlyphs">VCC</text>
<text x="284.5" y="879" textLength="28.5" lengthAdjust="spacingAndGlyphs">MOT</text>
<text x="284" y="919" textLength="34.5" lengthAdjust="spacingAndGlyphs">COMP</text>
<text x="370" y="839" textLength="26" lengthAdjust="spacingAndGlyphs">OUT</text>
<text x="380" y="878" textLength="15.5" lengthAdjust="spacingAndGlyphs">CS</text>
<text x="375" y="919.5" textLength="22" lengthAdjust="spacingAndGlyphs">INV</text>
<text x="326" y="937" textLength="27.5" lengthAdjust="spacingAndGlyphs">GND</text>
<text x="46" y="816" textLength="26.5" lengthAdjust="spacingAndGlyphs">VCC</text>
<path d="M50 820L69 820" stroke="#0c0c0c" stroke-width="1.5" fill="none"/>
<path d="M59 820L59 1064.5" stroke="#0c0c0c" stroke-width="1.12" fill="none"/>
<path d="M59 835L279.5 835" stroke="#0c0c0c" stroke-width="1.12" fill="none"/>
<path d="M228 835L215 832.2L216.5 835L215 837.8Z" fill="#0c0c0c"/>
<path d="M100 835L100 1064.5" stroke="#0c0c0c" stroke-width="1.12" fill="none"/>
<text x="211.24" y="829" font-size="12.5" textLength="24" lengthAdjust="spacingAndGlyphs">供电</text>
<text x="264" y="830.5">8</text>
<text x="264" y="871">2</text>
<text x="264.5" y="910">3</text>
<path d="M141 874L279.5 874" stroke="#0c0c0c" stroke-width="1.12" fill="none"/>
<path d="M224 914L279.5 914" stroke="#0c0c0c" stroke-width="1.12" fill="none"/>
<path d="M224 914L224 1064.5" stroke="#0c0c0c" stroke-width="1.12" fill="none"/>
<path d="M256 914L256 1064.5" stroke="#0c0c0c" stroke-width="1.12" fill="none"/>
<rect x="251.1" y="954.5" width="10.8" height="28.5" stroke="#0c0c0c" stroke-width="1.12" fill="#fff"/>
<rect x="254" y="1019.5" width="4" height="6.5" fill="#fff"/>
<path d="M246 1019.5L266 1019.5" stroke="#0c0c0c" stroke-width="1.5" fill="none"/>
<path d="M246 1026L266 1026" stroke="#0c0c0c" stroke-width="1.5" fill="none"/>
<rect x="57" y="988" width="4" height="6" fill="#fff"/>
<path d="M48 988L69.5 988" stroke="#0c0c0c" stroke-width="1.5" fill="none"/>
<path d="M48 994L69.5 994" stroke="#0c0c0c" stroke-width="1.5" fill="none"/>
<rect x="98" y="988" width="4" height="6" fill="#fff"/>
<path d="M89 988L110 988" stroke="#0c0c0c" stroke-width="1.5" fill="none"/>
<path d="M89 994L110 994" stroke="#0c0c0c" stroke-width="1.5" fill="none"/>
<rect x="188.5" y="988" width="4" height="6" fill="#fff"/>
<path d="M180 988L201 988" stroke="#0c0c0c" stroke-width="1.5" fill="none"/>
<path d="M180 994L201 994" stroke="#0c0c0c" stroke-width="1.5" fill="none"/>
<rect x="222" y="988" width="4" height="6" fill="#fff"/>
<path d="M214 988L235 988" stroke="#0c0c0c" stroke-width="1.5" fill="none"/>
<path d="M214 994L235 994" stroke="#0c0c0c" stroke-width="1.5" fill="none"/>
<rect x="136" y="976" width="10" height="28.5" stroke="#0c0c0c" stroke-width="1.12" fill="#fff"/>
<path d="M62.5 981L69.5 981" stroke="#0c0c0c" stroke-width="1" fill="none"/>
<path d="M66 977.5L66 984.5" stroke="#0c0c0c" stroke-width="1" fill="none"/>
<text x="27" y="1004.5" textLength="27" lengthAdjust="spacingAndGlyphs">C809</text>
<text x="31" y="1016" textLength="17" lengthAdjust="spacingAndGlyphs">22μ</text>
<text x="28" y="1027" textLength="21.5" lengthAdjust="spacingAndGlyphs">35V</text>
<text x="105" y="984.5" textLength="26" lengthAdjust="spacingAndGlyphs">C811</text>
<text x="104.5" y="1006" textLength="23.5" lengthAdjust="spacingAndGlyphs">100n</text>
<text x="149" y="986" textLength="27" lengthAdjust="spacingAndGlyphs">R806</text>
<text x="149" y="1001" textLength="17" lengthAdjust="spacingAndGlyphs">51k</text>
<text x="159" y="1014" textLength="27" lengthAdjust="spacingAndGlyphs">C812</text>
<text x="165.5" y="1024.5" textLength="19.5" lengthAdjust="spacingAndGlyphs">47p</text>
<text x="196" y="1006" textLength="26.5" lengthAdjust="spacingAndGlyphs">C813</text>
<text x="199" y="1016" textLength="18" lengthAdjust="spacingAndGlyphs">47n</text>
<text x="265" y="967" textLength="27" lengthAdjust="spacingAndGlyphs">R807</text>
<text x="266" y="979" textLength="18" lengthAdjust="spacingAndGlyphs">10k</text>
<text x="272" y="1021" textLength="27" lengthAdjust="spacingAndGlyphs">C814</text>
<text x="272" y="1032" textLength="25.5" lengthAdjust="spacingAndGlyphs">470n</text>
<path d="M400 835L570.5 835" stroke="#0c0c0c" stroke-width="1.12" fill="none"/>
<rect x="478.5" y="829.8" width="31.5" height="9.4" stroke="#0c0c0c" stroke-width="1.12" fill="#fff"/>
<path d="M547 826L547 843L533.5 834.5Z" stroke="#0c0c0c" stroke-width="1.12" fill="#fff" stroke-linejoin="miter"/>
<path d="M533.5 826L533.5 843" stroke="#0c0c0c" stroke-width="1.5" fill="none"/>
<path d="M435 835L422 832.2L423.5 835L422 837.8Z" fill="#0c0c0c"/>
<path d="M462 760L462 835" stroke="#0c0c0c" stroke-width="1.12" fill="none"/>
<path d="M462 760L480.5 760" stroke="#0c0c0c" stroke-width="1.12" fill="none"/>
<rect x="480.5" y="755.5" width="31" height="9.4" stroke="#0c0c0c" stroke-width="1.12" fill="#fff"/>
<path d="M570.5 759.5L570.5 1064.5" stroke="#0c0c0c" stroke-width="1.12" fill="none"/>
<path d="M400 873.3L636 873.3" stroke="#0c0c0c" stroke-width="1.12" fill="none"/>
<rect x="582" y="868.6" width="31" height="9.4" stroke="#0c0c0c" stroke-width="1.12" fill="#fff"/>
<path d="M483.5 873.3L496.5 870.5L495 873.3L496.5 876.1Z" fill="#0c0c0c"/>
<text x="412" y="830.5">7</text>
<text x="416.24" y="849" font-size="12.5" textLength="24" lengthAdjust="spacingAndGlyphs">激励</text>
<text x="412" y="870.3">4</text>
<text x="412" y="911">1</text>
<text x="481" y="742.5" textLength="27.5" lengthAdjust="spacingAndGlyphs">R808</text>
<text x="485" y="753.5" textLength="20" lengthAdjust="spacingAndGlyphs">75R</text>
<text x="481" y="827" textLength="27.5" lengthAdjust="spacingAndGlyphs">R809</text>
<text x="482" y="850.5" textLength="21.5" lengthAdjust="spacingAndGlyphs">47R</text>
<text x="518.5" y="809" textLength="37" lengthAdjust="spacingAndGlyphs">VD812</text>
<text x="517" y="821" textLength="40" lengthAdjust="spacingAndGlyphs">1N4148</text>
<text x="585" y="889" textLength="26" lengthAdjust="spacingAndGlyphs">R810</text>
<text x="584" y="901.5" textLength="27" lengthAdjust="spacingAndGlyphs">100R</text>
<text x="480.25" y="889" font-size="12.5" textLength="63.5" lengthAdjust="spacingAndGlyphs">过电流保护</text>
<path d="M472 873.3L472 1064.5" stroke="#0c0c0c" stroke-width="1.12" fill="none"/>
<rect x="470" y="1006" width="4" height="6" fill="#fff"/>
<path d="M461.5 1006L482.5 1006" stroke="#0c0c0c" stroke-width="1.5" fill="none"/>
<path d="M461.5 1012L482.5 1012" stroke="#0c0c0c" stroke-width="1.5" fill="none"/>
<text x="488.5" y="1008" textLength="27.5" lengthAdjust="spacingAndGlyphs">C815</text>
<text x="489" y="1019.5" textLength="24.5" lengthAdjust="spacingAndGlyphs">100p</text>
<rect x="564.2" y="993" width="11" height="29" stroke="#0c0c0c" stroke-width="1.12" fill="#fff"/>
<text x="578.5" y="1007" textLength="26.5" lengthAdjust="spacingAndGlyphs">R811</text>
<text x="579" y="1018" textLength="17" lengthAdjust="spacingAndGlyphs">10k</text>
<path d="M339 940L339 1086" stroke="#0c0c0c" stroke-width="1.12" fill="none"/>
<circle cx="339" cy="1064.5" r="2.6" fill="#0c0c0c"/>
<path d="M329.7 1086L348.3 1086L339 1097Z" stroke="#0c0c0c" stroke-width="1.12" fill="none" stroke-linejoin="miter"/>
<text x="336" y="1010" transform="rotate(-90 336 1010)">6</text>
<path d="M411 948H362a7 7 0 0 0 -7 7V1046a7 7 0 0 0 7 7H441a7 7 0 0 0 7 -7V955a7 7 0 0 0 -7 -7H428.5L405.5 924.5Z" stroke="#0c0c0c" stroke-width="1.12" fill="none"/>
<text x="362" y="960" font-size="12.5" textLength="70" lengthAdjust="spacingAndGlyphs">N802:内含锯</text>
<text x="362.31" y="973" font-size="12.5" textLength="76" lengthAdjust="spacingAndGlyphs">齿波发射器、</text>
<text x="362.31" y="986" font-size="12.5" textLength="76" lengthAdjust="spacingAndGlyphs">误差放大器、</text>
<text x="362.25" y="998" font-size="12.5" textLength="76" lengthAdjust="spacingAndGlyphs">零电流检测电</text>
<text x="362.25" y="1011" font-size="12.5" textLength="70" lengthAdjust="spacingAndGlyphs">路、驱动输出</text>
<text x="362.25" y="1023" font-size="12.5" textLength="65" lengthAdjust="spacingAndGlyphs">电路等,芯片</text>
<text x="362.25" y="1036" font-size="12.5" textLength="76" lengthAdjust="spacingAndGlyphs">内部提供了多</text>
<text x="362.25" y="1048" font-size="12.5" textLength="63" lengthAdjust="spacingAndGlyphs">种保护功能</text>
<path d="M58.5 1064.5L874.5 1064.5" stroke="#0c0c0c" stroke-width="1.12" fill="none"/>
<text x="37.26" y="652" font-size="12.5" textLength="72.5" lengthAdjust="spacingAndGlyphs">开机后:开/关</text>
<text x="37.25" y="664" font-size="12.5" textLength="64" lengthAdjust="spacingAndGlyphs">机VCC控制</text>
<text x="37.25" y="677" font-size="12.5" textLength="65.75" lengthAdjust="spacingAndGlyphs">电路的V805</text>
<text x="37.25" y="689" font-size="12.5" textLength="68.75" lengthAdjust="spacingAndGlyphs">导通,向N802</text>
<text x="37.25" y="702" font-size="12.5" textLength="66.75" lengthAdjust="spacingAndGlyphs">的 8 脚供电,</text>
<text x="37" y="714" font-size="12.5" textLength="72.7" lengthAdjust="spacingAndGlyphs">PFC电路启动</text>
<text x="37.25" y="727" font-size="12.5" textLength="72.5" lengthAdjust="spacingAndGlyphs">工作,从7脚输</text>
<text x="37.25" y="739" font-size="12.5" textLength="63" lengthAdjust="spacingAndGlyphs">出激励脉冲</text>
<rect x="264" y="43.9" width="12" height="3.2" fill="#fff"/>
<path d="M268.4 45.5L271.6 45.5" stroke="#0c0c0c" stroke-width="1.3" fill="none"/>
<rect x="264" y="299.9" width="12" height="3.2" fill="#fff"/>
<path d="M268.4 301.5L271.6 301.5" stroke="#0c0c0c" stroke-width="1.3" fill="none"/>
<rect x="458" y="43.9" width="12" height="3.2" fill="#fff"/>
<path d="M462.4 45.5L465.6 45.5" stroke="#0c0c0c" stroke-width="1.3" fill="none"/>
<rect x="458" y="299.9" width="12" height="3.2" fill="#fff"/>
<path d="M462.4 301.5L465.6 301.5" stroke="#0c0c0c" stroke-width="1.3" fill="none"/>
<rect x="649" y="43.9" width="12" height="3.2" fill="#fff"/>
<path d="M653.4 45.5L656.6 45.5" stroke="#0c0c0c" stroke-width="1.3" fill="none"/>
<rect x="649" y="299.9" width="12" height="3.2" fill="#fff"/>
<path d="M653.4 301.5L656.6 301.5" stroke="#0c0c0c" stroke-width="1.3" fill="none"/>
<rect x="206.4" y="84.5" width="3.2" height="11" fill="#fff"/>
<path d="M208 88.5L208 91.5" stroke="#0c0c0c" stroke-width="1.3" fill="none"/>
<rect x="716.9" y="86.5" width="3.2" height="11" fill="#fff"/>
<path d="M718.5 90.5L718.5 93.5" stroke="#0c0c0c" stroke-width="1.3" fill="none"/>
<rect x="206.4" y="211.5" width="3.2" height="11" fill="#fff"/>
<path d="M208 215.5L208 218.5" stroke="#0c0c0c" stroke-width="1.3" fill="none"/>
<rect x="716.9" y="213.5" width="3.2" height="11" fill="#fff"/>
<path d="M718.5 217.5L718.5 220.5" stroke="#0c0c0c" stroke-width="1.3" fill="none"/>
<rect x="938.9" y="93.5" width="3.2" height="11" fill="#fff"/>
<path d="M940.5 97.5L940.5 100.5" stroke="#0c0c0c" stroke-width="1.3" fill="none"/>
<rect x="938.9" y="261.5" width="3.2" height="11" fill="#fff"/>
<path d="M940.5 265.5L940.5 268.5" stroke="#0c0c0c" stroke-width="1.3" fill="none"/>
<rect x="938.9" y="463.5" width="3.2" height="11" fill="#fff"/>
<path d="M940.5 467.5L940.5 470.5" stroke="#0c0c0c" stroke-width="1.3" fill="none"/>
<rect x="1071" y="19.4" width="10" height="3.2" fill="#fff"/>
<path d="M1074.4 21L1077.6 21" stroke="#0c0c0c" stroke-width="1.3" fill="none"/>
<rect x="58.5" y="497.9" width="9" height="3.2" fill="#fff"/>
<path d="M61.4 499.5L64.6 499.5" stroke="#0c0c0c" stroke-width="1.3" fill="none"/>
<rect x="213.5" y="497.9" width="9" height="3.2" fill="#fff"/>
<path d="M216.4 499.5L219.6 499.5" stroke="#0c0c0c" stroke-width="1.3" fill="none"/>
<rect x="547.5" y="497.9" width="9" height="3.2" fill="#fff"/>
<path d="M550.4 499.5L553.6 499.5" stroke="#0c0c0c" stroke-width="1.3" fill="none"/>
<rect x="834.5" y="497.9" width="9" height="3.2" fill="#fff"/>
<path d="M837.4 499.5L840.6 499.5" stroke="#0c0c0c" stroke-width="1.3" fill="none"/>
<rect x="20" y="569" width="3.2" height="8" fill="#fff"/>
<path d="M21.6 571.5L21.6 574.5" stroke="#0c0c0c" stroke-width="1.3" fill="none"/>
<rect x="20" y="729" width="3.2" height="8" fill="#fff"/>
<path d="M21.6 731.5L21.6 734.5" stroke="#0c0c0c" stroke-width="1.3" fill="none"/>
<rect x="20" y="938" width="3.2" height="8" fill="#fff"/>
<path d="M21.6 940.5L21.6 943.5" stroke="#0c0c0c" stroke-width="1.3" fill="none"/>
<rect x="927.4" y="624" width="3.2" height="8" fill="#fff"/>
<path d="M929 626.5L929 629.5" stroke="#0c0c0c" stroke-width="1.3" fill="none"/>
<rect x="927.4" y="698" width="3.2" height="8" fill="#fff"/>
<path d="M929 700.5L929 703.5" stroke="#0c0c0c" stroke-width="1.3" fill="none"/>
<rect x="927.4" y="1048" width="3.2" height="8" fill="#fff"/>
<path d="M929 1050.5L929 1053.5" stroke="#0c0c0c" stroke-width="1.3" fill="none"/>
<text x="961.26" y="564.5" font-size="12.5" textLength="230" lengthAdjust="spacingAndGlyphs">维修提示:该电源+逆变器板引发故障有三</text>
<text x="961.25" y="577" font-size="12.5" textLength="248" lengthAdjust="spacingAndGlyphs">种:一是指示灯不亮,且无为主板控制电路提供</text>
<text x="961.26" y="589.5" font-size="12.5" textLength="237" lengthAdjust="spacingAndGlyphs">的5VS电压输出,多为电源部分故障,维修时</text>
<text x="961.25" y="602" font-size="12.5" textLength="238" lengthAdjust="spacingAndGlyphs">先查市电整流滤波后输出的+300V和PFC电</text>
<text x="961.26" y="614" font-size="12.5" textLength="241" lengthAdjust="spacingAndGlyphs">路输出的+400V供电,再查主电源N801的8脚</text>
<text x="961.26" y="627" font-size="12.5" textLength="241" lengthAdjust="spacingAndGlyphs">启动电压和6脚VCC电压,最后查N801 及其</text>
<text x="961.26" y="639" font-size="12.5" textLength="235" lengthAdjust="spacingAndGlyphs">外部电路元器件;二是指示灯亮,5VS电压正</text>
<text x="961.26" y="652" font-size="12.5" textLength="238" lengthAdjust="spacingAndGlyphs">常,无图无声,主要是+12V、+5V开/关机控制</text>
<text x="961.26" y="665" font-size="12.5" textLength="238" lengthAdjust="spacingAndGlyphs">电路故障,维修时先测STB开/关机电压是否</text>
<text x="961.25" y="677" font-size="12.5" textLength="242" lengthAdjust="spacingAndGlyphs">正常,再查+12V和+5V控制电路V810、V812、</text>
<text x="961" y="690" font-size="12.5" textLength="236" lengthAdjust="spacingAndGlyphs">V817、V813和VCC控制电路V814、N806、</text>
<text x="961" y="702" font-size="12.5" textLength="228" lengthAdjust="spacingAndGlyphs">V805是否正常;三是有声无光,则是背光灯</text>
<text x="961.25" y="714" font-size="12.5" textLength="59" lengthAdjust="spacingAndGlyphs">逆器工作。</text>
<text x="961.26" y="730" font-size="12.5" textLength="213" lengthAdjust="spacingAndGlyphs">维修提示:发生自动关机故障,多为保护</text>
<text x="961.26" y="743.2" font-size="12.5" textLength="214.7" lengthAdjust="spacingAndGlyphs">电路启动,如果V815的基极由正常时0V</text>
<text x="961.25" y="756.8" font-size="12.5" textLength="223" lengthAdjust="spacingAndGlyphs">变为0.7V,则是过电压保护电路启动,一是</text>
<text x="961.26" y="770.3" font-size="12.5" textLength="219" lengthAdjust="spacingAndGlyphs">稳压控制电路元器件变质造成输出电压</text>
<text x="961.25" y="784.5" font-size="12.5" textLength="224" lengthAdjust="spacingAndGlyphs">升高;二是稳压管VZ806、VZ807不良。可</text>
<text x="961.26" y="798.5" font-size="12.5" textLength="191" lengthAdjust="spacingAndGlyphs">将V815的基极对地短路解除保护。</text>
<text x="984.26" y="824" font-size="12.5" textLength="64" lengthAdjust="spacingAndGlyphs">输出连接器</text>
<text x="985.5" y="839" textLength="35" lengthAdjust="spacingAndGlyphs">XP802</text>
<text x="972" y="850.5" textLength="63.5" lengthAdjust="spacingAndGlyphs">TJC10-14A</text>
<circle cx="979.3" cy="865.3" r="5.2" fill="#0c0c0c"/>
<rect x="979" y="861.8" width="31" height="7" fill="#0c0c0c"/>
<rect x="984.5" y="878.05" width="25.5" height="6.6" fill="#0c0c0c"/>
<rect x="984.5" y="894.1" width="25.5" height="6.6" fill="#0c0c0c"/>
<rect x="984.5" y="910.15" width="25.5" height="6.6" fill="#0c0c0c"/>
<rect x="984.5" y="926.2" width="25.5" height="6.6" fill="#0c0c0c"/>
<rect x="984.5" y="942.25" width="25.5" height="6.6" fill="#0c0c0c"/>
<rect x="984.5" y="958.3" width="25.5" height="6.6" fill="#0c0c0c"/>
<rect x="984.5" y="974.35" width="25.5" height="6.6" fill="#0c0c0c"/>
<rect x="984.5" y="990.4" width="25.5" height="6.6" fill="#0c0c0c"/>
<rect x="984.5" y="1006.45" width="25.5" height="6.6" fill="#0c0c0c"/>
<rect x="984.5" y="1022.5" width="25.5" height="6.6" fill="#0c0c0c"/>
<rect x="984.5" y="1038.55" width="25.5" height="6.6" fill="#0c0c0c"/>
<rect x="984.5" y="1054.6" width="25.5" height="6.6" fill="#0c0c0c"/>
<rect x="984.5" y="1070.65" width="25.5" height="6.6" fill="#0c0c0c"/>
<path d="M1010 865.3L1075 865.3" stroke="#0c0c0c" stroke-width="1.12" fill="none"/>
<text x="1034" y="860.7">1</text>
<path d="M1010 881.35L1059.4 881.35" stroke="#0c0c0c" stroke-width="1.12" fill="none"/>
<text x="1034" y="876.75">2</text>
<path d="M1010 897.4L1059.4 897.4" stroke="#0c0c0c" stroke-width="1.12" fill="none"/>
<text x="1034" y="892.8">3</text>
<path d="M1010 913.45L1059.4 913.45" stroke="#0c0c0c" stroke-width="1.12" fill="none"/>
<text x="1034" y="908.85">4</text>
<path d="M1010 929.5L1091 929.5" stroke="#0c0c0c" stroke-width="1.12" fill="none"/>
<text x="1034" y="924.9">5</text>
<path d="M1010 945.55L1124 945.55" stroke="#0c0c0c" stroke-width="1.12" fill="none"/>
<text x="1034" y="940.95">6</text>
<path d="M1010 961.6L1059.4 961.6" stroke="#0c0c0c" stroke-width="1.12" fill="none"/>
<text x="1034" y="957">7</text>
<path d="M1010 977.65L1140 977.65" stroke="#0c0c0c" stroke-width="1.12" fill="none"/>
<text x="1034" y="973.05">8</text>
<path d="M1010 993.7L1075.5 993.7" stroke="#0c0c0c" stroke-width="1.12" fill="none"/>
<text x="1034" y="989.1">9</text>
<path d="M1010 1009.75L1156 1009.75" stroke="#0c0c0c" stroke-width="1.12" fill="none"/>
<text x="1034" y="1005.15">10</text>
<path d="M1010 1025.8L1075.5 1025.8" stroke="#0c0c0c" stroke-width="1.12" fill="none"/>
<text x="1034" y="1021.2">11</text>
<path d="M1010 1041.85L1172 1041.85" stroke="#0c0c0c" stroke-width="1.12" fill="none"/>
<text x="1034" y="1037.25">12</text>
<path d="M1010 1057.9L1059.4 1057.9" stroke="#0c0c0c" stroke-width="1.12" fill="none"/>
<text x="1034" y="1053.3">13</text>
<path d="M1010 1073.95L1059.4 1073.95" stroke="#0c0c0c" stroke-width="1.12" fill="none"/>
<text x="1034" y="1069.35">14</text>
<path d="M1075 857L1075 873" stroke="#0c0c0c" stroke-width="1.4" fill="none"/>
<path d="M1059.4 865.3L1059.4 881.35" stroke="#0c0c0c" stroke-width="1.12" fill="none"/>
<path d="M1059.4 897.4L1059.4 1091.5" stroke="#0c0c0c" stroke-width="1.12" fill="none"/>
<path d="M1049 1091.5L1070 1091.5" stroke="#0c0c0c" stroke-width="1.5" fill="none"/>
<path d="M1052.5 1097L1067 1097" stroke="#0c0c0c" stroke-width="1.5" fill="none"/>
<path d="M1055.5 1102.5L1063 1102.5" stroke="#0c0c0c" stroke-width="1.5" fill="none"/>
<text x="1080.5" y="869" textLength="22" lengthAdjust="spacingAndGlyphs">+5V</text>
<text x="1126" y="869" textLength="17.5" lengthAdjust="spacingAndGlyphs">ON</text>
<path d="M1145.5 873L1124 873L1124 896L1100.5 896" stroke="#0c0c0c" stroke-width="1.5" fill="none" stroke-linejoin="miter"/>
<text x="1097" y="893" textLength="24.5" lengthAdjust="spacingAndGlyphs">STB</text>
<path d="M1091 914L1091 929.5" stroke="#0c0c0c" stroke-width="1.12" fill="none"/>
<path d="M1084 914L1099 914" stroke="#0c0c0c" stroke-width="1.5" fill="none"/>
<path d="M1124 929.5L1124 945.55" stroke="#0c0c0c" stroke-width="1.12" fill="none"/>
<path d="M1117 929.5L1132 929.5" stroke="#0c0c0c" stroke-width="1.5" fill="none"/>
<path d="M1140 962L1140 977.65" stroke="#0c0c0c" stroke-width="1.12" fill="none"/>
<path d="M1132 962L1147.5 962" stroke="#0c0c0c" stroke-width="1.5" fill="none"/>
<path d="M1156 992.5L1156 1009.75" stroke="#0c0c0c" stroke-width="1.12" fill="none"/>
<path d="M1148 992.5L1164 992.5" stroke="#0c0c0c" stroke-width="1.5" fill="none"/>
<path d="M1172 1025L1172 1041.85" stroke="#0c0c0c" stroke-width="1.12" fill="none"/>
<path d="M1164 1025L1179.5 1025" stroke="#0c0c0c" stroke-width="1.5" fill="none"/>
<path d="M1075.5 977.65L1075.5 993.7" stroke="#0c0c0c" stroke-width="1.12" fill="none"/>
<path d="M1075.5 1009.75L1075.5 1025.8" stroke="#0c0c0c" stroke-width="1.12" fill="none"/>
<text x="1070" y="909" textLength="45" lengthAdjust="spacingAndGlyphs">ON/OFF</text>
<text x="1110" y="926" textLength="31" lengthAdjust="spacingAndGlyphs">IPWN</text>
<text x="1127" y="958" textLength="27" lengthAdjust="spacingAndGlyphs">+12V</text>
<text x="1145.5" y="989" textLength="22" lengthAdjust="spacingAndGlyphs">5VS</text>
<text x="1160.5" y="1020" textLength="22.5" lengthAdjust="spacingAndGlyphs">STB</text>
<text x="1114" y="1076" textLength="23" lengthAdjust="spacingAndGlyphs">STB</text>
<text x="1145" y="1076" textLength="18" lengthAdjust="spacingAndGlyphs">ON</text>
<path d="M1117 1078.5L1140.5 1078.5L1140.5 1062.5L1167 1062.5" stroke="#0c0c0c" stroke-width="1.5" fill="none" stroke-linejoin="miter"/>
<text x="918.5" y="1155.5" font-size="19" font-weight="normal" stroke="#000" stroke-width="0.5">图</text>
<text x="943.5" y="1155.5" font-size="20" font-weight="normal" textLength="29" lengthAdjust="spacingAndGlyphs" stroke="#000" stroke-width="0.5">4-6</text>
<text x="996.5" y="1155.5" font-size="20" font-weight="normal" textLength="41" lengthAdjust="spacingAndGlyphs" stroke="#000" stroke-width="0.5">海信</text>
<text x="1044.5" y="1155.5" font-size="20" font-weight="normal" textLength="151.5" lengthAdjust="spacingAndGlyphs" stroke="#000" stroke-width="0.5">RSAG7. 820. 1585</text>

</svg>
</body></html>
